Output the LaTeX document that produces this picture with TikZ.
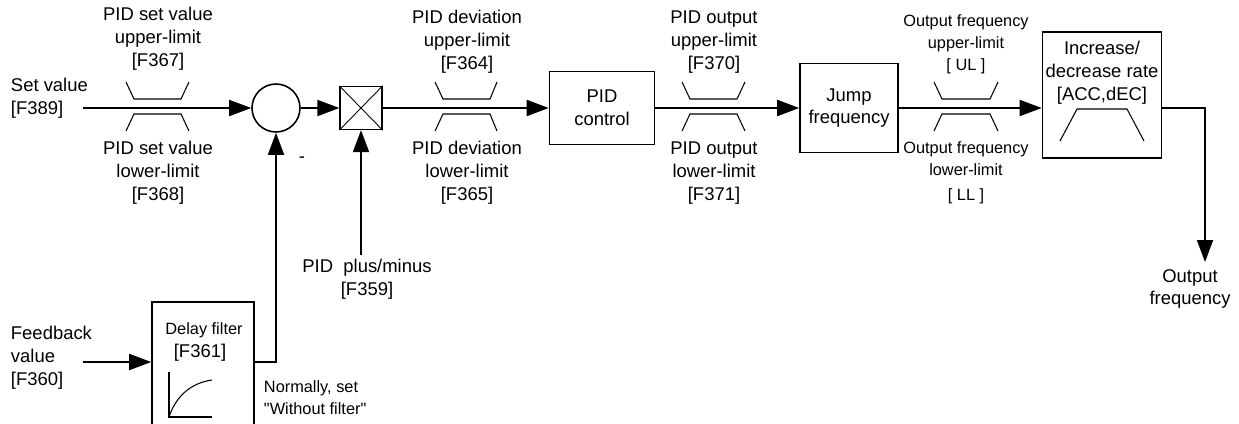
\documentclass[tikz,border=0pt]{standalone}
\usepackage{fontspec}
\setmainfont{Liberation Sans}
\usetikzlibrary{arrows.meta,positioning}

\begin{document}
\begin{tikzpicture}[
        x=0.02cm, y=-0.02cm,
        every node/.style={align=center, inner sep=0pt, font=\fontsize{10.5}{13}\selectfont},
        every path/.style={line width=1.1pt},
        >={Triangle[length=0.44cm, width=0.32cm]},
        block/.style={draw, line width=0.9pt},
        small/.style={font=\fontsize{9.3}{12.5}\selectfont},
        limit/.style={line width=0.6pt}
    ]
    \useasboundingbox (0,0) rectangle (1239,423);

    % Nodes
    \node (setv)[anchor=west, align=left] at (10,98) {Set value\\ {[F389]}};
    \node (fbv)[anchor=west, align=left] at (10,358) {Feedback\\ value\\ {[F360]}};
    \coordinate (setin) at (83,108);
    \coordinate (fbin) at (83,362);

    \node (sum)[circle, block, minimum size=0.96cm] at (276,108) {};
    \node (minus) at (302,160) {-};
    \node (mult)[block, line width=0.7pt, minimum width=0.84cm, minimum height=0.86cm] at (361,108) {};
    \coordinate (pm) at (361,255);
    \node (pmtxt) at (367,279) {PID\ \ plus/minus\\ {[F359]}};

    \node (pid)[block, minimum width=2.1cm, minimum height=1.46cm] at (602,108) {PID\\ control};
    \node (jump)[block, minimum width=1.96cm, minimum height=1.78cm] at (849,108) {Jump\\ frequency};
    \node (acc)[block, minimum width=2.38cm, minimum height=2.52cm] at (1102,95) {};
    \node (acctxt) at (1102,73) {Increase/\\ decrease rate\\ {[ACC,dEC]}};
    \coordinate (corner) at (1205,108);
    \coordinate (outend) at (1205,262);
    \node (outtxt) at (1190,289) {Output\\ frequency};

    \node (filter)[block, minimum width=2.04cm, minimum height=2.8cm] at (203,372) {};
    \node (filtxt)[small] at (204,330) {Delay filter};
    \node (filnum) at (200,353) {[F361]};
    \node (note)[small, anchor=west, align=left] at (263,398) {Normally, set\\ \textquotedbl Without filter\textquotedbl};

    % limiter labels
    \node (svup) at (158,39) {PID set value\\ upper-limit\\ {[F367]}};
    \node (svlow) at (158,173) {PID set value\\ lower-limit\\ {[F368]}};
    \node (devup) at (467,42) {PID deviation\\ upper-limit\\ {[F364]}};
    \node (devlow) at (467,173) {PID deviation\\ lower-limit\\ {[F365]}};
    \node (outup) at (714,42) {PID output\\ upper-limit\\ {[F370]}};
    \node (outlow) at (714,173) {PID output\\ lower-limit\\ {[F371]}};
    \node (frqup)[small] at (966,44) {Output frequency\\ upper-limit\\ {[ UL ]}};
    \node (frqlow)[small] at (966,173) {Output frequency\\ lower-limit\\[2pt] {[ LL ]}};

    % limiter shapes
    \draw[limit] (126,82) -- (134,99) -- (181,99) -- (189,82);
    \draw[limit] (126,131) -- (134,114) -- (181,114) -- (189,131);
    \draw[limit] (435,82) -- (443,99) -- (490,99) -- (497,82);
    \draw[limit] (435,131) -- (443,114) -- (490,114) -- (497,131);
    \draw[limit] (682,82) -- (690,99) -- (737,99) -- (745,82);
    \draw[limit] (682,131) -- (690,114) -- (737,114) -- (745,131);
    \draw[limit] (934,82) -- (942,99) -- (990,99) -- (998,82);
    \draw[limit] (934,131) -- (942,114) -- (990,114) -- (998,131);

    % inside the blocks
    \draw[line width=0.5pt] (mult.north west) -- (mult.south east) (mult.north east) -- (mult.south west);
    \draw[limit] (1060,141) -- (1077,109) -- (1127,109) -- (1144,141);
    \draw[limit] (169,372) -- (169,417) -- (212,417);
    \draw[limit] (169,417) .. controls (176,396) and (191,383) .. (212,380);

    % Edges
    \draw[->] (setin) -- (sum.west);
    \draw[->] (sum) -- (mult);
    \draw[->] (mult) -- (pid);
    \draw[->] (pid) -- (jump);
    \draw[->] (jump) -- (jump -| acc.west);
    \draw[->] (acc.east |- jump) -- (corner) -- (outend);
    \draw[->] (fbin) -- (filter.west |- fbin);
    \draw[->] (filter.east |- fbin) -| (sum.south);
    \draw[->] (pm) -- (mult.south);

\end{tikzpicture}
\end{document}
